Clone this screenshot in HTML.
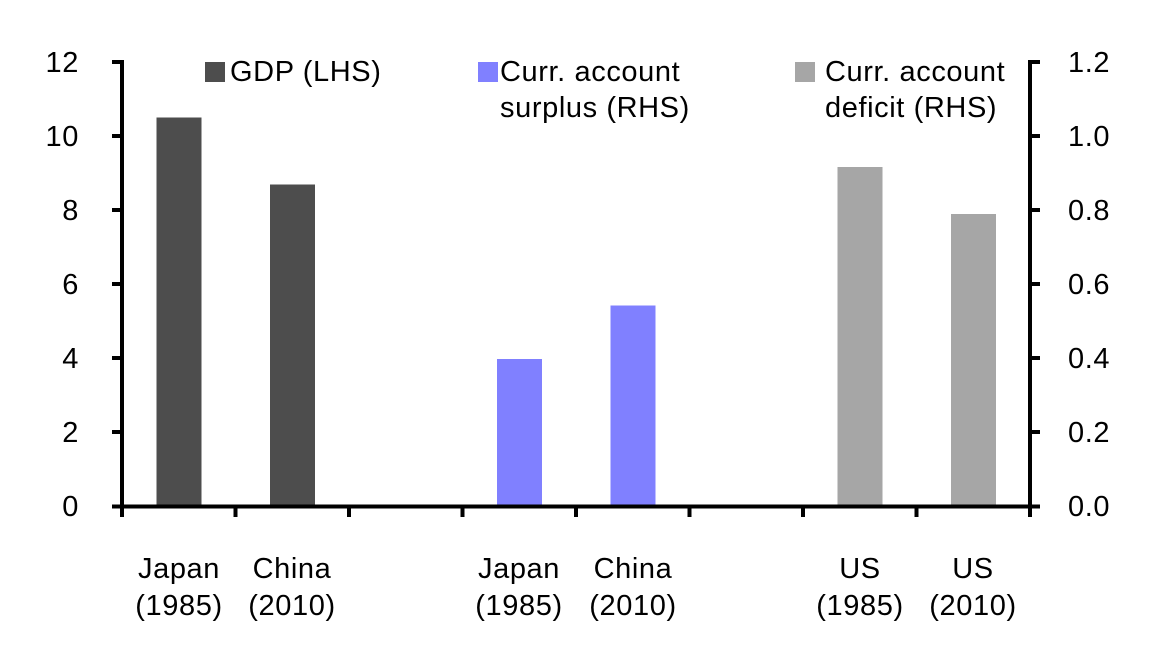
<!DOCTYPE html>
<html><head><meta charset="utf-8"><style>
body{margin:0;background:#fff}
svg text{font-family:"Liberation Sans",sans-serif;font-size:29px;fill:#000;letter-spacing:0.6px}
</style></head><body>
<svg width="1170" height="650" viewBox="0 0 1170 650">
<g fill="#4d4d4d">
<rect x="156.5" y="117.5" width="45" height="389"/>
<rect x="270" y="184.5" width="45" height="322"/>
</g>
<g fill="#8080ff">
<rect x="497" y="359" width="45" height="147.5"/>
<rect x="610.5" y="305.5" width="45" height="201"/>
</g>
<g fill="#a6a6a6">
<rect x="837.5" y="167" width="45" height="339.5"/>
<rect x="951" y="214" width="45" height="292.5"/>
</g>
<g stroke="#000" stroke-width="4">
<line x1="122" y1="60" x2="122" y2="508"/>
<line x1="1030" y1="60" x2="1030" y2="508"/>
<line x1="112" y1="506.5" x2="1040" y2="506.5"/>
<path d="M112 62H122M112 136H122M112 210H122M112 284H122M112 358H122M112 432H122"/>
<path d="M1030 62H1040M1030 136H1040M1030 210H1040M1030 284H1040M1030 358H1040M1030 432H1040"/>
<path d="M122 506V517M235.5 506V517M349 506V517M462.5 506V517M576 506V517M689.5 506V517M803 506V517M916.5 506V517M1030 506V517"/>
</g>
<g text-anchor="end">
<text x="79" y="72">12</text><text x="79" y="146">10</text><text x="79" y="220">8</text>
<text x="79" y="294">6</text><text x="79" y="368">4</text><text x="79" y="442">2</text><text x="79" y="516">0</text>
</g>
<g>
<text x="1068" y="72">1.2</text><text x="1068" y="146">1.0</text><text x="1068" y="220">0.8</text>
<text x="1068" y="294">0.6</text><text x="1068" y="368">0.4</text><text x="1068" y="442">0.2</text><text x="1068" y="516">0.0</text>
</g>
<rect x="205" y="62" width="20" height="20" fill="#4d4d4d"/>
<text x="230" y="81">GDP (LHS)</text>
<rect x="478" y="62" width="20" height="20" fill="#8080ff"/>
<text x="500" y="81">Curr. account</text><text x="500" y="117">surplus (RHS)</text>
<rect x="795" y="62" width="20" height="20" fill="#a6a6a6"/>
<text x="825" y="81">Curr. account</text><text x="825" y="117">deficit (RHS)</text>
<g text-anchor="middle">
<text x="179" y="578">Japan</text><text x="179" y="615">(1985)</text>
<text x="292" y="578">China</text><text x="292" y="615">(2010)</text>
<text x="519" y="578">Japan</text><text x="519" y="615">(1985)</text>
<text x="633" y="578">China</text><text x="633" y="615">(2010)</text>
<text x="860" y="578">US</text><text x="860" y="615">(1985)</text>
<text x="973" y="578">US</text><text x="973" y="615">(2010)</text>
</g>
</svg>
</body></html>
